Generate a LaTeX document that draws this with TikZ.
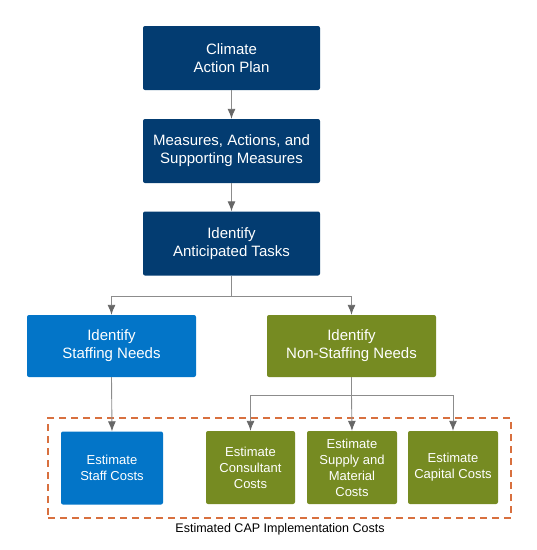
\documentclass[tikz,border=0pt]{standalone}
\usepackage{fontspec}
\setmainfont{Liberation Sans}
\usetikzlibrary{arrows.meta}
\definecolor{capnavy}{HTML}{033C71}
\definecolor{capblue}{HTML}{0375C8}
\definecolor{capolive}{HTML}{768B22}
\definecolor{caporange}{HTML}{D8703F}
\definecolor{capgray}{HTML}{8C8C8C}
\definecolor{captip}{HTML}{676767}
\tikzset{
  bigbox/.style={rounded corners=2pt, text=white, align=center, inner sep=0pt,
    font=\fontsize{15}{18}\selectfont},
  smallbox/.style={rounded corners=2pt, text=white, align=center, inner sep=0pt,
    minimum height=73pt, font=\fontsize{13}{16}\selectfont},
  link/.style={draw=capgray, line width=0.9pt},
  linkarr/.style={link, -{Latex[length=10pt,width=8pt,color=captip]}}
}

\begin{document}
\begin{tikzpicture}[x=1pt,y=-1pt]
        \useasboundingbox (0,0) rectangle (537,550);
        \node[bigbox, fill=capnavy, minimum width=177pt, minimum height=64pt] (Plan) at (231.5,58) {Climate\\Action Plan};
        \node[bigbox, fill=capnavy, minimum width=177pt, minimum height=64pt] (Meas) at (231.5,151) {Measures, Actions, and\\Supporting Measures};
        \node[bigbox, fill=capnavy, minimum width=177pt, minimum height=64pt] (Task) at (231.5,243.5) {Identify\\Anticipated Tasks};
        \node[bigbox, fill=capblue, minimum width=169pt, minimum height=62pt] (Staf) at (111.5,346) {Identify\\Staffing Needs};
        \node[bigbox, fill=capolive, minimum width=169pt, minimum height=62pt] (NonS) at (351.5,346) {Identify\\Non-Staffing Needs};
        \node[draw=caporange, line width=1.3pt, dash pattern=on 7pt off 5pt, minimum width=463pt, minimum height=100pt, inner sep=0pt] (Grp) at (279.5,468) {};
        \node[smallbox, fill=capblue, minimum width=102pt] (SCos) at (112,468) {Estimate\\Staff Costs};
        \node[smallbox, fill=capolive, minimum width=89pt] (Cons) at (250.5,467.5) {Estimate\\Consultant\\Costs};
        \node[smallbox, fill=capolive, minimum width=90pt] (Supp) at (352,467.5) {Estimate\\Supply and\\Material\\Costs};
        \node[smallbox, fill=capolive, minimum width=90pt] (Capi) at (453,467.5) {Estimate\\Capital Costs};
        \node[font=\fontsize{12.5}{15}\selectfont] (GrpL) at (280,529) {Estimated CAP Implementation Costs};
        \coordinate (Fork) at (231.5,296);
        \coordinate (Spli) at (351.5,395);
        \draw[linkarr] (Plan) -- (Meas);
        \draw[linkarr] (Meas) -- (Task);
        \draw[link] (Task.south) -- (Fork);
        \draw[linkarr] (Fork) -| (Staf.north);
        \draw[linkarr] (Fork) -| (NonS.north);
        \draw[linkarr] (Staf.south) -- (SCos.north);
        \draw[link] (NonS.south) -- (Spli);
        \draw[linkarr] (Spli) -| (Cons.north);
        \draw[linkarr] (Spli) -- (Supp.north);
        \draw[linkarr] (Spli) -| (Capi.north);
      \end{tikzpicture}
\end{document}
